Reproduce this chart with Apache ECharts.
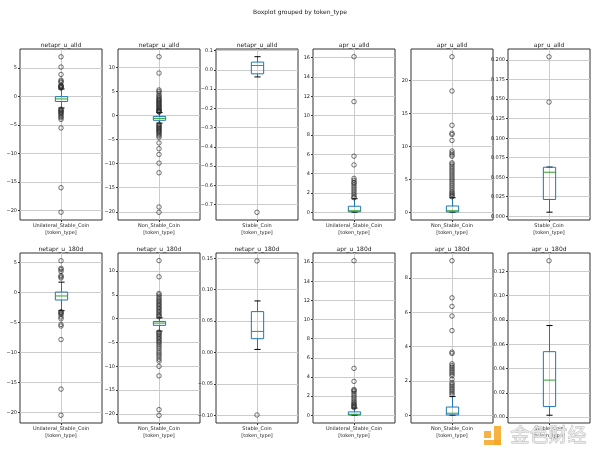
<!DOCTYPE html>
<html><head><meta charset="utf-8">
<script src="https://cdn.jsdelivr.net/npm/echarts@6/dist/echarts.min.js"></script>
<style>html,body{margin:0;padding:0;background:#fff}#c{width:600px;height:457px}</style>
</head><body><div id="c"></div>
<script>
const suptitle = 'Boxplot grouped by token_type';
const panelTitles = ['netapr_u_alld','netapr_u_alld','netapr_u_alld','apr_u_alld','apr_u_alld','apr_u_alld',
  'netapr_u_180d','netapr_u_180d','netapr_u_180d','apr_u_180d','apr_u_180d','apr_u_180d'];
const categories = ['Unilateral_Stable_Coin','Non_Stable_Coin','Stable_Coin','Unilateral_Stable_Coin','Non_Stable_Coin','Stable_Coin',
  'Unilateral_Stable_Coin','Non_Stable_Coin','Stable_Coin','Unilateral_Stable_Coin','Non_Stable_Coin','Stable_Coin'];
const axisName = '[token_type]';
// [lower whisker, Q1, median, Q3, upper whisker]
const boxStats = [
  [-2.0, -0.85, -0.4, 0.0, 1.35],
  [-1.6, -1.0, -0.6, -0.2, 0.6],
  [-0.037, -0.021, 0.0225, 0.040, 0.068],
  [0.0, 0.05, 0.15, 0.62, 1.4],
  [0.0, 0.05, 0.22, 0.95, 2.2],
  [0.0052, 0.0215, 0.0564, 0.0628, 0.0630],
  [-3.05, -1.27, -0.6, 0.05, 1.7],
  [-2.6, -1.4, -0.92, -0.57, 0.2],
  [0.0048, 0.0219, 0.0335, 0.065, 0.082],
  [0.0, 0.03, 0.1, 0.35, 0.75],
  [0.0, 0.02, 0.12, 0.48, 1.09],
  [0.0016, 0.0087, 0.0305, 0.0539, 0.0754]
];
const outliers1 = [7.0, 5.2, 3.9, 2.9, 2.7, 2.5, 2.0, 1.9, 1.8, 1.7, 1.6, 1.5, -2.2, -2.35, -2.5, -2.65, -2.8, -3.0, -3.2, -3.5, -3.7, -4.0, -5.5, -16.0, -20.3];
const outliers2 = [12.2, 8.8, 5.3, 5.0, 4.6, 4.2, 3.9, 3.6, 3.4, 3.2, 3.0, 2.8, 2.6, 2.4, 2.2, 2.0, 1.8, 1.6, 1.4, 1.2, 1.0, 0.9, 0.8, 0.7,
  -1.8, -2.0, -2.2, -2.4, -2.6, -2.8, -3.0, -3.2, -3.4, -3.6, -3.9, -4.2, -4.5, -5.7, -6.9, -8.1, -9.9, -11.9, -19.0, -20.1];
const outliers3 = [-0.74];
const outliers4 = [16.1, 11.45, 5.8, 4.9, 3.5, 3.3, 3.1, 3.0, 2.8, 2.6, 2.4, 2.2, 2.0, 1.8, 1.6, 1.5];
const outliers5 = [23.6, 18.4, 13.2, 12.0, 11.8, 10.9, 9.3, 9.0, 8.7, 8.5, 7.5, 7.3, 7.0, 6.7, 6.4, 6.1, 5.8, 5.5, 5.2, 4.9, 4.6, 4.3, 4.0, 3.7, 3.4, 3.1, 2.9, 2.7, 2.5, 2.35];
const outliers6 = [0.2043, 0.1463];
const outliers7 = [5.26, 4.0, 3.8, 3.5, 2.8, 2.6, 2.4, -3.2, -3.35, -3.5, -3.7, -4.1, -4.4, -5.35, -5.6, -7.85, -16.1, -20.45];
const outliers8 = [12.2, 8.8, 5.3, 5.0, 4.6, 4.2, 3.9, 3.6, 3.3, 3.0, 2.7, 2.4, 2.1, 1.8, 1.5, 1.2, 0.9, 0.6, 0.4,
  -2.8, -3.0, -3.3, -3.6, -3.9, -4.2, -4.5, -4.8, -5.1, -5.5, -5.9, -6.3, -6.8, -7.2, -7.6, -8.0, -8.5, -8.9, -10.0, -12.0, -19.1, -20.3];
const outliers9 = [0.1457, -0.0995];
const outliers10 = [16.15, 4.9, 3.54, 2.7, 2.6, 2.5, 2.3, 2.1, 1.9, 1.7, 1.5, 1.35, 1.2, 1.1, 1.0, 0.9, 0.8];
const outliers11 = [9.0, 6.84, 6.34, 5.78, 4.93, 3.68, 3.6, 3.0, 2.9, 2.8, 2.7, 2.6, 2.5, 2.4, 2.3, 2.1, 1.9, 1.8, 1.7, 1.6, 1.5, 1.4, 1.3, 1.2];
const outliers12 = [0.1287];
const outliers = [outliers1, outliers2, outliers3, outliers4, outliers5, outliers6, outliers7, outliers8, outliers9, outliers10, outliers11, outliers12];
const yRanges = [[-21.67, 8.37], [-21.7, 13.8], [-0.780, 0.108], [-0.805, 16.9], [-1.18, 24.78], [-0.0048, 0.2143],
  [-21.74, 6.55], [-21.9, 13.8], [-0.1123, 0.1583], [-0.81, 16.96], [-0.45, 9.45], [-0.0048, 0.1351]];
const yTicks = [
  [-20, -15, -10, -5, 0, 5],
  [-20, -15, -10, -5, 0, 5, 10],
  [-0.7, -0.6, -0.5, -0.4, -0.3, -0.2, -0.1, 0.0, 0.1],
  [0, 2, 4, 6, 8, 10, 12, 14, 16],
  [0, 5, 10, 15, 20],
  [0.000, 0.025, 0.050, 0.075, 0.100, 0.125, 0.150, 0.175, 0.200],
  [-20, -15, -10, -5, 0, 5],
  [-20, -15, -10, -5, 0, 5, 10],
  [-0.10, -0.05, 0.00, 0.05, 0.10, 0.15],
  [0, 2, 4, 6, 8, 10, 12, 14, 16],
  [0, 2, 4, 6, 8],
  [0.00, 0.02, 0.04, 0.06, 0.08, 0.10, 0.12]
];
const tickDecimals = [0, 0, 1, 0, 0, 3, 0, 0, 2, 0, 0, 2];

const FONT = 'DejaVu Sans';
const TXT = '#222';
const GRIDC = '#cccccc';
const colLeft = [20, 118, 216, 313, 411, 508];
const rowTop = [49, 253];
const rowH = [171, 170];
const panelW = 82;

const grids = [], xAxes = [], yAxes = [], series = [], titles = [];
titles.push({text: suptitle, left: 300, top: 9, textAlign: 'center', padding: 0,
  textStyle: {fontSize: 6, fontWeight: 'normal', color: TXT, fontFamily: FONT}});

function renderBox(params, api) {
  const c = v => api.coord([0, v]);
  const xc = Math.round(c(0)[0]) + 0.5;
  const unit = api.size([1, 0])[0];
  const bw = unit * 0.15, cw = bw * 0.5;
  const yLo = c(api.value(1))[1], yQ1 = c(api.value(2))[1], yMed = c(api.value(3))[1],
        yQ3 = c(api.value(4))[1], yHi = c(api.value(5))[1];
  const blue = '#1f77b4';
  return {type: 'group', children: [
    {type: 'line', shape: {x1: xc, y1: yQ3, x2: xc, y2: yHi}, style: {stroke: blue, lineWidth: 1}},
    {type: 'line', shape: {x1: xc, y1: yQ1, x2: xc, y2: yLo}, style: {stroke: blue, lineWidth: 1}},
    {type: 'line', shape: {x1: xc - cw / 2, y1: yHi, x2: xc + cw / 2, y2: yHi}, style: {stroke: '#000', lineWidth: 1}},
    {type: 'line', shape: {x1: xc - cw / 2, y1: yLo, x2: xc + cw / 2, y2: yLo}, style: {stroke: '#000', lineWidth: 1}},
    {type: 'rect', shape: {x: xc - bw / 2, y: yQ3, width: bw, height: yQ1 - yQ3}, style: {fill: 'none', stroke: blue, lineWidth: 1}},
    {type: 'line', shape: {x1: xc - bw / 2, y1: yMed, x2: xc + bw / 2, y2: yMed}, style: {stroke: '#2ca02c', lineWidth: 1}}
  ]};
}

for (let i = 0; i < 12; i++) {
  const r = Math.floor(i / 6), col = i % 6;
  const left = colLeft[col], top = rowTop[r], h = rowH[r];
  grids.push({left: left, top: top, width: panelW, height: h, show: true, borderColor: '#333', borderWidth: 1,
    backgroundColor: 'transparent', containLabel: false, outerBoundsMode: 'none'});
  titles.push({text: panelTitles[i], left: left + panelW / 2, top: top - 7, textAlign: 'center', padding: 0,
    textStyle: {fontSize: 6, fontWeight: 'normal', color: TXT, fontFamily: FONT}});
  const cat = categories[i];
  xAxes.push({type: 'value', gridIndex: i, min: -0.5, max: 0.5, position: 'bottom',
    axisLine: {show: false, onZero: false},
    axisTick: {show: true, length: 2, customValues: [0], lineStyle: {color: '#333', width: 1}},
    axisLabel: {customValues: [0], formatter: () => cat, fontSize: 5, color: TXT, fontFamily: FONT, margin: 3},
    splitLine: {show: false},
    name: axisName, nameLocation: 'middle', nameGap: 10,
    nameTextStyle: {fontSize: 5, color: TXT, fontFamily: FONT}});
  const dec = tickDecimals[i];
  yAxes.push({type: 'value', gridIndex: i, min: yRanges[i][0], max: yRanges[i][1], position: 'left',
    axisLine: {show: false, onZero: false},
    axisTick: {show: true, length: 2, customValues: yTicks[i], lineStyle: {color: '#333', width: 1}},
    axisLabel: {customValues: yTicks[i], fontSize: 5, color: TXT, fontFamily: FONT, margin: 3,
      formatter: v => v.toFixed(dec).replace('-', '\u2212')},
    splitLine: {show: true, lineStyle: {color: GRIDC, width: 1, type: 'solid'}}});
  // vertical grid line through the category position (kept beneath the box)
  series.push({type: 'line', xAxisIndex: i, yAxisIndex: i, data: [], silent: true, z: 1,
    markLine: {z: 1, silent: true, symbol: ['none', 'none'], label: {show: false}, animation: false,
      lineStyle: {color: GRIDC, width: 1, type: 'solid'}, emphasis: {disabled: true},
      data: [{xAxis: 0}]}});
  series.push({type: 'custom', xAxisIndex: i, yAxisIndex: i, renderItem: renderBox, silent: true, z: 6,
    encode: {x: 0, y: [1, 2, 3, 4, 5]},
    data: [[0].concat(boxStats[i])]});
  series.push({type: 'scatter', xAxisIndex: i, yAxisIndex: i, silent: true, z: 7,
    symbol: 'circle', symbolSize: 4.5,
    itemStyle: {color: 'rgba(0,0,0,0)', borderColor: '#222', borderWidth: 0.8},
    data: outliers[i].map(v => [0, v])});
}

const chart = echarts.init(document.getElementById('c'), null, {renderer: 'canvas'});
chart.setOption({
  animation: false,
  backgroundColor: '#fff',
  title: titles,
  grid: grids, xAxis: xAxes, yAxis: yAxes, series: series,
  graphic: [
    {type: 'rect', shape: {x: 484, y: 431, width: 7, height: 7}, style: {fill: '#f5a623', opacity: 0.85}, z: 100},
    {type: 'rect', shape: {x: 494, y: 426, width: 7, height: 19}, style: {fill: '#f5a623', opacity: 0.85}, z: 100},
    {type: 'rect', shape: {x: 484, y: 440, width: 17, height: 5}, style: {fill: '#f5a623', opacity: 0.85}, z: 100},
    {type: 'text', left: 510, top: 425, z: 100,
      style: {text: '金色财经', fontSize: 19, fontFamily: 'Noto Sans CJK SC', fill: 'rgba(235,235,235,0.85)', stroke: 'rgba(170,170,170,0.8)', lineWidth: 0.8}}
  ]
});
</script></body></html>
